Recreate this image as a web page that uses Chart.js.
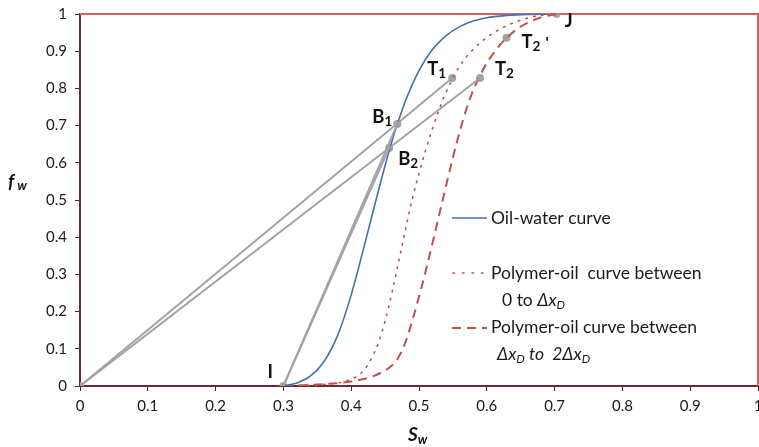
<!DOCTYPE html>
<html>
<head>
<meta charset="utf-8">
<script src="https://cdn.jsdelivr.net/npm/chart.js@4/dist/chart.umd.min.js"></script>
<style>
html,body{margin:0;padding:0;background:#fff;}
canvas{display:block;}
</style>
</head>
<body>
<canvas id="c" width="759" height="447" style="width:759px;height:447px"></canvas>
<script>
// Oil-water fractional flow curve
const owSw = [0.30,0.32,0.34,0.36,0.38,0.40,0.42,0.44,0.46,0.48,0.50,0.52,0.54,0.56,0.58,0.60,0.63,0.66,0.69];
const owFw = [0,0.008,0.027,0.066,0.136,0.245,0.382,0.524,0.657,0.766,0.848,0.905,0.942,0.966,0.981,0.990,0.996,0.999,1];
// Polymer-oil curve between 0 and dxD (dotted)
const p1Sw = [0.30,0.34,0.37,0.39,0.41,0.42,0.43,0.44,0.45,0.46,0.47,0.48,0.49,0.50,0.51,0.52,0.53,0.54,0.56,0.58,0.60,0.62,0.64,0.66,0.69];
const p1Fw = [0,0.002,0.006,0.012,0.028,0.045,0.075,0.115,0.175,0.25,0.334,0.42,0.502,0.572,0.635,0.693,0.745,0.79,0.86,0.905,0.937,0.96,0.977,0.989,1];
// Polymer-oil curve between dxD and 2dxD (dashed)
const p2Sw = [0.30,0.35,0.40,0.43,0.45,0.46,0.47,0.48,0.49,0.50,0.51,0.52,0.53,0.54,0.55,0.56,0.57,0.58,0.59,0.60,0.61,0.62,0.63,0.645,0.66,0.68,0.703];
const p2Fw = [0,0.004,0.012,0.025,0.042,0.055,0.078,0.118,0.175,0.24,0.31,0.385,0.462,0.539,0.614,0.684,0.745,0.795,0.835,0.868,0.895,0.918,0.937,0.96,0.976,0.991,1];
// Key points
const keyNames = ['O','I','B1','B2','T1','T2','T2p','J'];
const keySw = [0,0.30,0.468,0.456,0.549,0.59,0.629,0.703];
const keyFw = [0,0,0.704,0.64,0.828,0.828,0.936,1];
// Straight construction lines (index pairs into key points)
const segments = [[0,4],[0,5],[1,2],[1,3]];
// Axis ticks
const xTicks = [0,0.1,0.2,0.3,0.4,0.5,0.6,0.7,0.8,0.9,1];
const yTicks = [0,0.1,0.2,0.3,0.4,0.5,0.6,0.7,0.8,0.9,1];

const FONT = 'Lato, "Open Sans", sans-serif';
const BLUE = '#4271b0';
const RED = '#c0504d';
const GRAY = '#a3a3a3';

const zip = (xs, ys) => xs.map((x, i) => ({x, y: ys[i]}));

const datasets = [];
segments.forEach(([a, b]) => {
  datasets.push({
    data: [{x: keySw[a], y: keyFw[a]}, {x: keySw[b], y: keyFw[b]}],
    borderColor: GRAY, borderWidth: 2, pointRadius: 0, tension: 0
  });
});
datasets.push({data: zip(owSw, owFw), borderColor: BLUE, borderWidth: 1.6, pointRadius: 0, cubicInterpolationMode: 'monotone'});
datasets.push({data: zip(p1Sw, p1Fw), borderColor: RED, borderWidth: 1.6, borderDash: [1.5, 6.5], borderCapStyle: 'round', pointRadius: 0, cubicInterpolationMode: 'monotone'});
datasets.push({data: zip(p2Sw, p2Fw), borderColor: RED, borderWidth: 2, borderDash: [9, 6], pointRadius: 0, cubicInterpolationMode: 'monotone'});
datasets.push({data: zip(keySw, keyFw), showLine: false, pointRadius: 4, pointBackgroundColor: GRAY, pointBorderColor: GRAY, pointBorderWidth: 0});

function drawRich(ctx, parts, x, y) {
  let cx = x;
  parts.forEach(p => {
    const size = p.size || 18.5;
    ctx.font = (p.italic ? 'italic ' : '') + (p.bold ? 'bold ' : '') + size + 'px ' + FONT;
    ctx.fillText(p.t, cx, y + (p.dy || 0));
    cx += ctx.measureText(p.t).width + (p.gap || 0);
  });
}

const labelOffsets = {
  I: [-16, -8], B1: [-25, -1], B2: [9, 17], T1: [-25, -3], T2: [15, -3], T2p: [15, 10], J: [8, 13]
};
const SUB = 13.5;
const labelParts = {
  I: [{t: 'I', bold: true}],
  B1: [{t: 'B', bold: true}, {t: '1', bold: true, size: SUB, dy: 3}],
  B2: [{t: 'B', bold: true}, {t: '2', bold: true, size: SUB, dy: 3}],
  T1: [{t: 'T', bold: true}, {t: '1', bold: true, size: SUB, dy: 3}],
  T2: [{t: 'T', bold: true}, {t: '2', bold: true, size: SUB, dy: 3}],
  T2p: [{t: 'T', bold: true}, {t: '2', bold: true, size: SUB, dy: 3, gap: 5}, {t: "'", bold: true, size: 16}],
  J: [{t: 'J', bold: true}]
};

const annot = {
  id: 'annot',
  beforeDatasetsDraw(chart) {
    const {ctx, chartArea: a} = chart;
    ctx.save();
    ctx.strokeStyle = '#d06464';
    ctx.lineWidth = 2;
    ctx.beginPath();
    ctx.moveTo(a.left, a.top);
    ctx.lineTo(a.right, a.top);
    ctx.lineTo(a.right, a.bottom);
    ctx.stroke();
    ctx.restore();
  },
  afterDatasetsDraw(chart) {
    const {ctx} = chart;
    const xs = chart.scales.x, ys = chart.scales.y;
    ctx.save();
    ctx.fillStyle = '#111';
    ctx.textBaseline = 'alphabetic';
    ctx.textAlign = 'left';
    keyNames.forEach((n, i) => {
      if (!labelParts[n]) return;
      const px = xs.getPixelForValue(keySw[i]);
      const py = ys.getPixelForValue(keyFw[i]);
      const o = labelOffsets[n];
      drawRich(ctx, labelParts[n], px + o[0], py + o[1]);
    });

    // Legend
    ctx.lineWidth = 1.6;
    ctx.strokeStyle = BLUE;
    ctx.setLineDash([]);
    ctx.beginPath(); ctx.moveTo(452, 218); ctx.lineTo(487, 218); ctx.stroke();
    ctx.strokeStyle = RED;
    ctx.setLineDash([1.5, 8]); ctx.lineCap = 'round';
    ctx.beginPath(); ctx.moveTo(453, 273); ctx.lineTo(487, 273); ctx.stroke();
    ctx.lineCap = 'butt';
    ctx.lineWidth = 2;
    ctx.setLineDash([9, 6]);
    ctx.beginPath(); ctx.moveTo(452, 328); ctx.lineTo(487, 328); ctx.stroke();
    ctx.setLineDash([]);

    ctx.fillStyle = '#1a1a1a';
    const base = 6;
    const LS = 17.5, LSUB = 12;
    drawRich(ctx, [{t: 'Oil-water curve', size: LS}], 491, 218 + base);
    drawRich(ctx, [{t: 'Polymer-oil  curve between', size: LS}], 491, 273 + base);
    drawRich(ctx, [{t: '0 to ', size: LS}, {t: 'Δx', italic: true, size: LS}, {t: 'D', italic: true, size: LSUB, dy: 3}], 502, 300 + base);
    drawRich(ctx, [{t: 'Polymer-oil curve between', size: LS}], 491, 327 + base);
    drawRich(ctx, [{t: 'Δx', italic: true, size: LS}, {t: 'D', italic: true, size: LSUB, dy: 3}, {t: ' to  2Δx', italic: true, size: LS}, {t: 'D', italic: true, size: LSUB, dy: 3}], 497, 354 + base);

    // Axis titles
    ctx.fillStyle = '#111';
    drawRich(ctx, [{t: 'S', bold: true, italic: true, size: 19}, {t: 'w', bold: true, italic: true, size: 13, dy: 3}], 408, 441);
    drawRich(ctx, [{t: 'f', bold: true, italic: true, size: 19, gap: 3}, {t: 'w', bold: true, italic: true, size: 13, dy: 2}], 8, 188);
    ctx.restore();
  }
};

const fmt = v => String(+Number(v).toFixed(1));
const zeroPad = () => ({left: 0, top: 0, right: 0, bottom: 0});

new Chart(document.getElementById('c'), {
  type: 'line',
  data: {datasets},
  options: {
    responsive: false,
    devicePixelRatio: 1,
    animation: false,
    events: [],
    layout: {autoPadding: false, padding: {top: 14, right: 1, left: 0, bottom: 0}},
    plugins: {legend: {display: false}, tooltip: {enabled: false}},
    scales: {
      x: {
        type: 'linear', min: 0, max: 1,
        afterBuildTicks: s => { s.ticks = xTicks.map(v => ({value: v})); },
        afterFit: s => { s.height = 61; s.paddingLeft = 0; s.paddingRight = 0; s.getPadding = zeroPad; },
        ticks: {callback: fmt, font: {family: FONT, size: 15}, color: '#1a1a1a', padding: 6, maxRotation: 0, autoSkip: false},
        grid: {drawOnChartArea: false, drawTicks: true, tickLength: 5, color: '#333', lineWidth: 1},
        border: {color: '#6a2c2c', width: 2}
      },
      y: {
        type: 'linear', min: 0, max: 1,
        afterBuildTicks: s => { s.ticks = yTicks.map(v => ({value: v})); },
        afterFit: s => { s.width = 80; s.paddingTop = 0; s.paddingBottom = 0; s.getPadding = zeroPad; },
        ticks: {callback: fmt, font: {family: FONT, size: 15}, color: '#1a1a1a', padding: 8, autoSkip: false},
        grid: {drawOnChartArea: false, drawTicks: true, tickLength: 5, color: '#333', lineWidth: 1},
        border: {color: '#6a2c2c', width: 2}
      }
    }
  },
  plugins: [annot]
});
</script>
</body>
</html>
